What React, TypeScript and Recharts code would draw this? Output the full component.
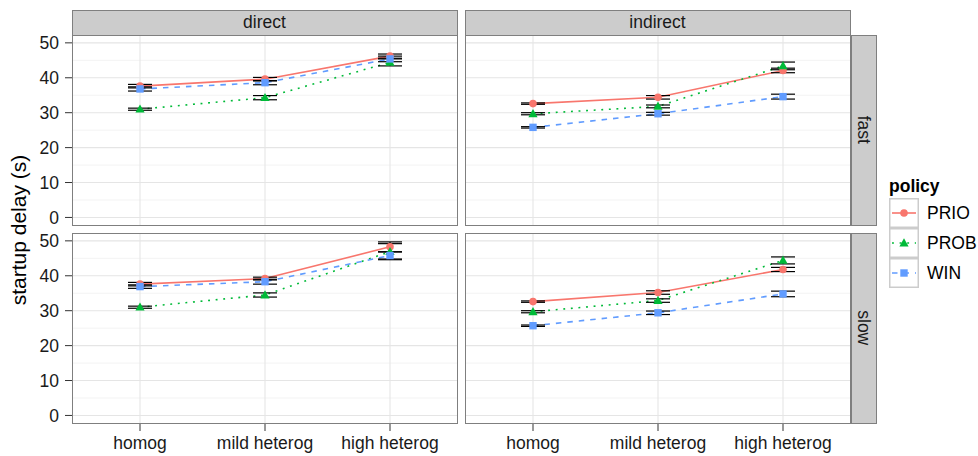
import React from 'react';
import { ComposedChart, Line, XAxis, YAxis, CartesianGrid, ErrorBar } from 'recharts';

// ---------- data ----------
const categories = ['homog', 'mild heterog', 'high heterog'];
const xPositions = [1, 2, 3];
const yTicks = [0, 10, 20, 30, 40, 50];
const yMinorTicks = [5, 15, 25, 35, 45];
const policies = ['PRIO', 'PROB', 'WIN'];
const columnLabels = ['direct', 'indirect'];
const rowLabels = ['fast', 'slow'];

// fast / direct
const fastDirectPRIO = [37.6, 39.6, 46.2];
const fastDirectPROB = [31.0, 34.3, 44.4];
const fastDirectWIN = [36.8, 38.6, 45.4];
const fastDirectPRIOErr = [0.5, 0.5, 0.6];
const fastDirectPROBErr = [0.3, 0.6, 1.0];
const fastDirectWINErr = [0.6, 0.6, 0.8];

// fast / indirect
const fastIndirectPRIO = [32.6, 34.4, 42.1];
const fastIndirectPROB = [29.7, 31.8, 43.4];
const fastIndirectWIN = [25.8, 29.7, 34.6];
const fastIndirectPRIOErr = [0.2, 0.5, 0.65];
const fastIndirectPROBErr = [0.3, 0.4, 1.1];
const fastIndirectWINErr = [0.2, 0.4, 0.7];

// slow / direct
const slowDirectPRIO = [37.6, 39.2, 48.3];
const slowDirectPROB = [31.0, 34.5, 46.9];
const slowDirectWIN = [36.9, 38.3, 45.8];
const slowDirectPRIOErr = [0.5, 0.4, 1.4];
const slowDirectPROBErr = [0.3, 0.6, 2.3];
const slowDirectWINErr = [0.5, 0.7, 1.0];

// slow / indirect
const slowIndirectPRIO = [32.6, 35.2, 41.8];
const slowIndirectPROB = [29.7, 32.9, 44.4];
const slowIndirectWIN = [25.7, 29.4, 34.8];
const slowIndirectPRIOErr = [0.2, 0.5, 0.6];
const slowIndirectPROBErr = [0.3, 0.5, 1.0];
const slowIndirectWINErr = [0.2, 0.5, 0.8];

const buildRows = (prio: number[], prob: number[], win: number[], prioE: number[], probE: number[], winE: number[]) =>
  xPositions.map((x, i) => ({
    x,
    PRIO: prio[i],
    PROB: prob[i],
    WIN: win[i],
    PRIO_err: prioE[i],
    PROB_err: probE[i],
    WIN_err: winE[i],
  }));

const panels = [
  { rows: buildRows(fastDirectPRIO, fastDirectPROB, fastDirectWIN, fastDirectPRIOErr, fastDirectPROBErr, fastDirectWINErr), col: 0, row: 0 },
  { rows: buildRows(fastIndirectPRIO, fastIndirectPROB, fastIndirectWIN, fastIndirectPRIOErr, fastIndirectPROBErr, fastIndirectWINErr), col: 1, row: 0 },
  { rows: buildRows(slowDirectPRIO, slowDirectPROB, slowDirectWIN, slowDirectPRIOErr, slowDirectPROBErr, slowDirectWINErr), col: 0, row: 1 },
  { rows: buildRows(slowIndirectPRIO, slowIndirectPROB, slowIndirectWIN, slowIndirectPRIOErr, slowIndirectPROBErr, slowIndirectWINErr), col: 1, row: 1 },
];

// ---------- style ----------
const COLORS: Record<string, string> = { PRIO: '#F8766D', PROB: '#00BA38', WIN: '#619CFF' };
const DASH: Record<string, string | undefined> = { PRIO: undefined, PROB: '1.9 5.7', WIN: '5.5 6' };
const FONT = '"Liberation Sans", Arial, Helvetica, sans-serif';
const TEXT_COLOR = '#1A1A1A';
const BORDER = '#7F7F7F';

const PANEL_W = 386;
const PANEL_H = 191;
const COL_X = [72, 465];
const ROW_Y = [35, 233];
const STRIP_TOP = 10;
const STRIP_RIGHT_X = 851;
const STRIP_SIZE = 25;
const Y_AXIS_W = 72;
const X_AXIS_H = 32;
const PAD = 10; // vertical breathing room so edge tick labels are not clipped
const X_DOMAIN: [number, number] = [0.456, 3.544];
const Y_DOMAIN: [number, number] = [-2.45, 52.25];

const shapeFor = (policy: string, cx: number, cy: number, key: any) => {
  const fill = COLORS[policy];
  if (policy === 'PRIO') return <circle key={key} cx={cx} cy={cy} r={3.8} fill={fill} />;
  if (policy === 'PROB')
    return <polygon key={key} points={`${cx},${cy - 4.8} ${cx - 4.6},${cy + 3.4} ${cx + 4.6},${cy + 3.4}`} fill={fill} />;
  return <rect key={key} x={cx - 3.7} y={cy - 3.7} width={7.4} height={7.4} fill={fill} />;
};

const makeDot = (policy: string) => (props: any) => {
  const { cx, cy, index } = props;
  if (cx == null || cy == null) return <g key={`e-${policy}-${index}`} />;
  return shapeFor(policy, cx, cy, `d-${policy}-${index}`);
};

function Panel({ rows, col, row }: { rows: any[]; col: number; row: number }) {
  const showY = col === 0;
  const showX = row === 1;
  const yW = showY ? Y_AXIS_W : 0;
  const xH = showX ? X_AXIS_H : 0;
  return (
    <div style={{ position: 'absolute', left: COL_X[col] - yW, top: ROW_Y[row] - PAD }}>
      <ComposedChart
        width={PANEL_W + yW}
        height={PANEL_H + xH + 2 * PAD}
        data={rows}
        margin={{ top: PAD, right: 0, bottom: PAD, left: 0 }}
      >
        <CartesianGrid
          stroke="#F3F3F3"
          strokeWidth={1}
          vertical={false}
          horizontalValues={yMinorTicks}
          fill="#FFFFFF"
        />
        <CartesianGrid stroke="#E5E5E5" strokeWidth={1.1} horizontalValues={yTicks} verticalValues={xPositions} />
        <XAxis
          dataKey="x"
          type="number"
          domain={X_DOMAIN}
          ticks={xPositions}
          interval={0}
          allowDataOverflow
          hide={!showX}
          height={X_AXIS_H}
          tickSize={7}
          tickMargin={6}
          axisLine={false}
          tickLine={{ stroke: '#333333' }}
          tick={{ fill: TEXT_COLOR, fontSize: 17.5, fontFamily: FONT }}
          tickFormatter={(v: number) => categories[v - 1]}
        />
        <YAxis
          type="number"
          domain={Y_DOMAIN}
          ticks={yTicks}
          interval={0}
          allowDataOverflow
          hide={!showY}
          width={Y_AXIS_W}
          tickSize={7}
          tickMargin={6}
          axisLine={false}
          tickLine={{ stroke: '#333333' }}
          tick={{ fill: TEXT_COLOR, fontSize: 17.5, fontFamily: FONT }}
        />
        {policies.map((p) => (
          <Line
            key={`line-${p}`}
            dataKey={p}
            type="linear"
            stroke={COLORS[p]}
            strokeWidth={1.6}
            strokeDasharray={DASH[p]}
            dot={makeDot(p)}
            activeDot={false}
            isAnimationActive={false}
            legendType="none"
          />
        ))}
        {policies.map((p) => (
          <Line
            key={`err-${p}`}
            dataKey={p}
            type="linear"
            stroke="none"
            dot={false}
            activeDot={false}
            isAnimationActive={false}
            legendType="none"
          >
            <ErrorBar dataKey={`${p}_err`} direction="y" width={12} stroke="#000000" strokeWidth={1.2} isAnimationActive={false} />
          </Line>
        ))}
      </ComposedChart>
      <div
        style={{
          position: 'absolute',
          left: yW - 0.5,
          top: PAD - 0.5,
          width: PANEL_W,
          height: PANEL_H,
          border: `1px solid ${BORDER}`,
          boxSizing: 'border-box',
          pointerEvents: 'none',
        }}
      />
    </div>
  );
}

const stripText: React.CSSProperties = {
  fontFamily: FONT,
  fontSize: 17.5,
  color: TEXT_COLOR,
  lineHeight: 1,
  whiteSpace: 'nowrap',
};

function LegendKey({ policy }: { policy: string }) {
  return (
    <svg width={30} height={30} style={{ display: 'block' }}>
      <rect x={0.75} y={0.75} width={28.5} height={28.5} fill="#FFFFFF" stroke="#CCCCCC" strokeWidth={1.5} />
      <line x1={3} y1={15} x2={27} y2={15} stroke={COLORS[policy]} strokeWidth={1.6} strokeDasharray={DASH[policy]} />
      {shapeFor(policy, 15, 15, 'k')}
    </svg>
  );
}

export default function App() {
  return (
    <div style={{ position: 'absolute', left: 0, top: 0, width: 978, height: 456, background: '#FFFFFF', fontFamily: FONT }}>
      {/* column strips */}
      {columnLabels.map((lab, i) => (
        <div
          key={lab}
          style={{
            position: 'absolute',
            left: COL_X[i] - 0.5,
            top: STRIP_TOP - 0.5,
            width: PANEL_W,
            height: STRIP_SIZE + 1,
            background: '#CCCCCC',
            border: `1px solid ${BORDER}`,
            boxSizing: 'border-box',
            display: 'flex',
            alignItems: 'center',
            justifyContent: 'center',
          }}
        >
          <span style={stripText}>{lab}</span>
        </div>
      ))}
      {/* row strips */}
      {rowLabels.map((lab, i) => (
        <div
          key={lab}
          style={{
            position: 'absolute',
            left: STRIP_RIGHT_X - 0.5,
            top: ROW_Y[i] - 0.5,
            width: STRIP_SIZE + 1,
            height: PANEL_H,
            background: '#CCCCCC',
            border: `1px solid ${BORDER}`,
            boxSizing: 'border-box',
            display: 'flex',
            alignItems: 'center',
            justifyContent: 'center',
          }}
        >
          <span style={{ ...stripText, transform: 'rotate(90deg)', display: 'inline-block' }}>{lab}</span>
        </div>
      ))}
      {panels.map((pn, i) => (
        <Panel key={i} rows={pn.rows} col={pn.col} row={pn.row} />
      ))}
      {/* y-axis title */}
      <div
        style={{
          position: 'absolute',
          left: 18,
          top: (ROW_Y[0] + ROW_Y[1] + PANEL_H) / 2,
          transform: 'translate(-50%, -50%) rotate(-90deg)',
          fontSize: 21,
          color: '#000000',
          whiteSpace: 'nowrap',
          lineHeight: 1,
        }}
      >
        startup delay (s)
      </div>
      {/* legend */}
      <div style={{ position: 'absolute', left: 889, top: 176 }}>
        <div style={{ fontSize: 17.5, fontWeight: 'bold', color: '#000000', lineHeight: '20px', height: 22 }}>policy</div>
        {policies.map((p) => (
          <div key={p} style={{ display: 'flex', alignItems: 'center', height: 30 }}>
            <LegendKey policy={p} />
            <span style={{ marginLeft: 8, fontSize: 17.5, color: '#000000' }}>{p}</span>
          </div>
        ))}
      </div>
    </div>
  );
}
